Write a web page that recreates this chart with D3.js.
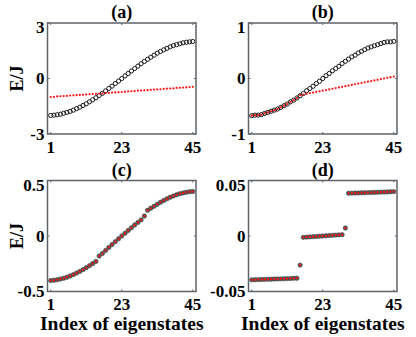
<!DOCTYPE html>
<html>
<head>
<meta charset="utf-8">
<script src="https://cdn.jsdelivr.net/npm/d3@7"></script>
<style>
  body { margin: 0; background: #fff; }
  svg text { font-family: "Liberation Serif", "Times New Roman", serif; font-weight: bold; fill: #000; }
</style>
</head>
<body>
<div class="chart"></div>
<script>
const xTicks = [1, 23, 45]
const titles = ['(a)', '(b)', '(c)', '(d)']
const yTicksA = [-3, 0, 3]
const yTicksB = [-1, 0, 1]
const yTicksC = [-0.5, 0, 0.5]
const yTicksD = [-0.05, 0, 0.05]
const yLabel = 'E/J'
const xLabel = 'Index of eigenstates'

// panel (a)
const aCircles = [-2.00, -1.98, -1.96, -1.93, -1.88, -1.83, -1.78, -1.71, -1.63, -1.55,
  -1.46, -1.37, -1.26, -1.15, -1.04, -0.92, -0.80, -0.67, -0.54, -0.41,
  -0.27, -0.14, 0.00, 0.14, 0.27, 0.41, 0.54, 0.67, 0.80, 0.92,
  1.04, 1.15, 1.26, 1.37, 1.46, 1.55, 1.63, 1.71, 1.78, 1.83,
  1.88, 1.93, 1.96, 1.98, 2.00]
const aDots = [-1.00, -0.99, -0.97, -0.96, -0.95, -0.94, -0.92, -0.91, -0.90, -0.89,
  -0.88, -0.86, -0.85, -0.84, -0.83, -0.81, -0.80, -0.79, -0.78, -0.76,
  -0.75, -0.74, -0.73, -0.71, -0.70, -0.69, -0.68, -0.66, -0.65, -0.64,
  -0.63, -0.61, -0.60, -0.59, -0.58, -0.56, -0.55, -0.54, -0.53, -0.51,
  -0.50, -0.49, -0.48, -0.46, -0.45]

// panel (b)
const bCircles = [-0.67, -0.66, -0.66, -0.65, -0.63, -0.61, -0.59, -0.57, -0.55, -0.52,
  -0.49, -0.46, -0.42, -0.39, -0.35, -0.31, -0.27, -0.22, -0.18, -0.14,
  -0.09, -0.05, 0.00, 0.05, 0.09, 0.14, 0.18, 0.22, 0.27, 0.31,
  0.35, 0.39, 0.42, 0.46, 0.49, 0.52, 0.55, 0.57, 0.59, 0.61,
  0.63, 0.65, 0.66, 0.66, 0.67]
const bDots = [-0.67, -0.66, -0.66, -0.65, -0.63, -0.61, -0.59, -0.57, -0.55, -0.52,
  -0.49, -0.46, -0.42, -0.39, -0.35, -0.300, -0.288, -0.277, -0.265, -0.254,
  -0.242, -0.231, -0.219, -0.208, -0.196, -0.185, -0.173, -0.161, -0.150, -0.138,
  -0.127, -0.115, -0.104, -0.092, -0.081, -0.069, -0.057, -0.046, -0.034, -0.023,
  -0.011, 0.000, 0.012, 0.023, 0.035]

// panel (c)
const cValues = [-0.401, -0.398, -0.394, -0.388, -0.380, -0.371, -0.360, -0.348, -0.334, -0.319,
  -0.303, -0.286, -0.267, -0.248, -0.229, -0.180, -0.158, -0.130, -0.103, -0.077,
  -0.051, -0.025, 0.000, 0.025, 0.050, 0.074, 0.099, 0.122, 0.145, 0.180,
  0.232, 0.250, 0.268, 0.286, 0.304, 0.320, 0.335, 0.349, 0.361, 0.371,
  0.381, 0.388, 0.394, 0.399, 0.401]

// panel (d)
const dValues = [-0.0395, -0.0394, -0.0393, -0.0392, -0.0391, -0.0390, -0.0389, -0.0388, -0.0387, -0.0386,
  -0.0385, -0.0384, -0.0383, -0.0381, -0.0380, -0.0262, -0.0012, -0.0010, -0.0008, -0.0006,
  -0.0004, -0.0002, 0.0000, 0.0002, 0.0004, 0.0006, 0.0008, 0.0010, 0.0012, 0.0072,
  0.0385, 0.0386, 0.0387, 0.0388, 0.0389, 0.0390, 0.0391, 0.0392, 0.0393, 0.0394,
  0.0395, 0.0396, 0.0397, 0.0399, 0.0400]

const width = 416
const height = 337
const pw = 148.5
const ph = 111
const frameColor = '#5d6368'

const panels = [
  { title: titles[0], left: 47.5, top: 23, yTicks: yTicksA, circles: aCircles, dots: aDots, filled: false, yl: true, xl: false },
  { title: titles[1], left: 248.5, top: 23, yTicks: yTicksB, circles: bCircles, dots: bDots, filled: false, yl: false, xl: false },
  { title: titles[2], left: 47.5, top: 180.5, yTicks: yTicksC, circles: cValues, dots: cValues, filled: true, yl: true, xl: true },
  { title: titles[3], left: 248.5, top: 180.5, yTicks: yTicksD, circles: dValues, dots: dValues, filled: true, yl: false, xl: true }
]

const svg = d3.select('.chart')
  .append('svg')
  .attr('width', width)
  .attr('height', height)

panels.forEach(p => {
  const g = svg.append('g').attr('transform', 'translate(' + p.left + ',' + p.top + ')')

  const x = d3.scaleLinear().domain([0, 46]).range([0, pw])
  const y = d3.scaleLinear().domain([p.yTicks[0], p.yTicks[2]]).range([ph, 0])

  // frame + inward ticks on all four sides
  g.append('rect')
    .attr('width', pw).attr('height', ph)
    .attr('fill', 'none').attr('stroke', frameColor).attr('stroke-width', 1.5)

  const ticks = g.append('g').attr('stroke', frameColor).attr('stroke-width', 1)
  xTicks.forEach(t => {
    ticks.append('line').attr('x1', x(t)).attr('x2', x(t)).attr('y1', ph).attr('y2', ph - 2)
    ticks.append('line').attr('x1', x(t)).attr('x2', x(t)).attr('y1', 0).attr('y2', 2)
  })
  p.yTicks.forEach(t => {
    ticks.append('line').attr('x1', 0).attr('x2', 2).attr('y1', y(t)).attr('y2', y(t))
    ticks.append('line').attr('x1', pw).attr('x2', pw - 2).attr('y1', y(t)).attr('y2', y(t))
  })

  // tick labels
  g.selectAll('.xt')
    .data(xTicks)
    .enter()
    .append('text')
    .attr('x', d => x(d))
    .attr('y', ph + 18.5)
    .attr('text-anchor', 'middle')
    .style('font-size', '17px')
    .text(d => d)

  g.selectAll('.yt')
    .data(p.yTicks)
    .enter()
    .append('text')
    .attr('x', -3)
    .attr('y', (d, i) => y(d) + (i === 2 ? 10 : 5.5))
    .attr('text-anchor', 'end')
    .style('font-size', '17px')
    .text(d => String(d))

  g.append('text')
    .attr('x', pw / 2)
    .attr('y', -5)
    .attr('text-anchor', 'middle')
    .style('font-size', '18px')
    .text(p.title)

  if (p.yl) {
    g.append('text')
      .attr('transform', 'translate(-25,' + (ph / 2) + ') rotate(-90)')
      .attr('text-anchor', 'middle')
      .style('font-size', '18px')
      .text(yLabel)
  }
  if (p.xl) {
    g.append('text')
      .attr('x', pw / 2)
      .attr('y', ph + 38)
      .attr('text-anchor', 'middle')
      .style('font-size', '19.5px')
      .text(xLabel)
  }

  // markers
  g.selectAll('.circ')
    .data(p.circles)
    .enter()
    .append('circle')
    .attr('cx', (d, i) => x(i + 1))
    .attr('cy', d => y(d))
    .attr('r', p.filled ? 2.2 : 2.1)
    .attr('fill', p.filled ? '#5a5a5a' : 'none')
    .attr('stroke', p.filled ? '#444' : '#1a1a1a')
    .attr('stroke-width', p.filled ? 0.6 : 1)

  g.selectAll('.dot')
    .data(p.dots)
    .enter()
    .append('circle')
    .attr('cx', (d, i) => x(i + 1))
    .attr('cy', d => y(d))
    .attr('r', 1.1)
    .attr('fill', '#ff1010')
})
</script>
</body>
</html>
